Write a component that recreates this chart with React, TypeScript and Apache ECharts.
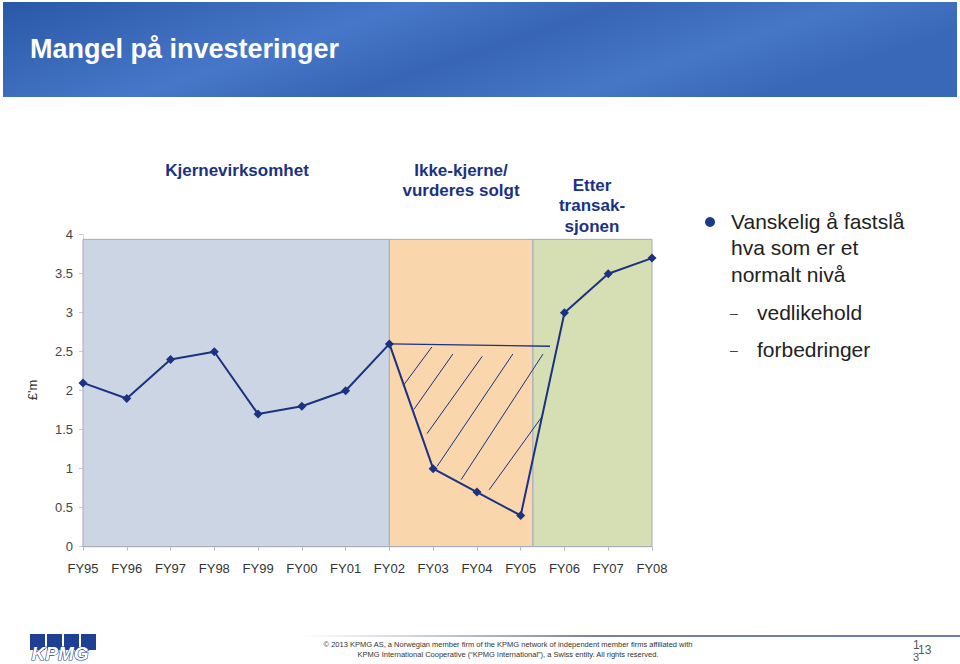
import React, { useEffect, useRef } from "react";
import * as echarts from "echarts";

const categories = ["FY95", "FY96", "FY97", "FY98", "FY99", "FY00", "FY01", "FY02", "FY03", "FY04", "FY05", "FY06", "FY07", "FY08"];
const values = [2.1, 1.9, 2.4, 2.5, 1.7, 1.8, 2.0, 2.6, 1.0, 0.7, 0.4, 3.0, 3.5, 3.7];
const yTicks = [0, 0.5, 1, 1.5, 2, 2.5, 3, 3.5, 4];

// region bounds in category-index units
const regionBounds = [
  [0, 7],
  [7, 10.28],
  [10.28, 13],
];
const regionTop = 3.94;

// annotation: benchmark level line and hatch strokes (index units, value units)
const benchmarkLine = [[7, 2.6], [10.67, 2.57]];
const hatchSegments = [
  [[7.31, 2.06], [7.97, 2.56]],
  [[7.56, 1.76], [8.45, 2.47]],
  [[7.86, 1.45], [9.12, 2.44]],
  [[8.09, 1.03], [9.82, 2.47]],
  [[8.64, 0.86], [10.51, 2.47]],
  [[9.28, 0.73], [10.49, 1.67]],
];

const sectionLabels = [
  { lines: ["Kjernevirksomhet"], x: 237, y: 170 },
  { lines: ["Ikke-kjerne/", "vurderes solgt"], x: 461, y: 170 },
  { lines: ["Etter", "transak-", "sjonen"], x: 592, y: 185 },
];

const bulletMain = ["Vanskelig å fastslå", "hva som er et", "normalt nivå"];
const bulletSub = ["vedlikehold", "forbedringer"];

const footerLines = [
  "© 2013 KPMG AS, a Norwegian member firm of the KPMG network of independent member firms affiliated with",
  "KPMG International Cooperative (“KPMG International”), a Swiss entity. All rights reserved.",
];

const regionColors = ["#cbd5e3", "#f9d6ac", "#d6dfb3"];
const NAVY = "#1b3282";
const FONT = "'Liberation Sans', Arial, sans-serif";

export default function App() {
  const ref = useRef<HTMLDivElement>(null);

  useEffect(() => {
    if (!ref.current) return;
    const chart = echarts.init(ref.current, undefined, { renderer: "svg" });

    const graphics: any[] = [];
    // header band
    graphics.push({
      type: "rect",
      shape: { x: 3, y: 2, width: 954, height: 95 },
      style: {
        fill: new echarts.graphic.LinearGradient(0, 0, 1, 0.3, [
          { offset: 0, color: "#2a58a9" },
          { offset: 0.4, color: "#4777c8" },
          { offset: 0.6, color: "#3865b6" },
          { offset: 0.82, color: "#4676c6" },
          { offset: 1, color: "#3a68b9" },
        ]),
      },
      z: 0,
    });
    graphics.push({
      type: "text",
      x: 30,
      y: 49,
      style: {
        text: "Mangel på investeringer",
        fill: "#ffffff",
        font: `bold 27px ${FONT}`,
        textVerticalAlign: "middle",
      },
    });

    sectionLabels.forEach((s) => {
      s.lines.forEach((ln, i) => {
        graphics.push({
          type: "text",
          x: s.x,
          y: s.y + i * 20.5,
          style: {
            text: ln,
            fill: NAVY,
            font: `bold 17px ${FONT}`,
            textAlign: "center",
            textVerticalAlign: "middle",
          },
        });
      });
    });

    // bullets on the right
    graphics.push({ type: "circle", shape: { cx: 710, cy: 222, r: 5 }, style: { fill: "#1b3a8c" } });
    bulletMain.forEach((ln, i) => {
      graphics.push({
        type: "text",
        x: 731,
        y: 221 + i * 26.5,
        style: { text: ln, fill: "#222", font: `21px ${FONT}`, textVerticalAlign: "middle" },
      });
    });
    bulletSub.forEach((ln, i) => {
      graphics.push({
        type: "text",
        x: 730,
        y: 313 + i * 37,
        style: { text: "–", fill: "#444", font: `14px ${FONT}`, textVerticalAlign: "middle" },
      });
      graphics.push({
        type: "text",
        x: 757,
        y: 312 + i * 37,
        style: { text: ln, fill: "#222", font: `21px ${FONT}`, textVerticalAlign: "middle" },
      });
    });

    // y-axis name
    graphics.push({
      type: "text",
      x: 32,
      y: 390,
      rotation: Math.PI / 2,
      style: { text: "£'m", fill: "#333", font: `13px ${FONT}`, textAlign: "center", textVerticalAlign: "middle" },
    });

    // footer
    graphics.push({
      type: "rect",
      shape: { x: 300, y: 635, width: 660, height: 2 },
      style: {
        fill: new echarts.graphic.LinearGradient(0, 0, 1, 0, [
          { offset: 0, color: "rgba(120,135,165,0)" },
          { offset: 0.45, color: "rgba(100,115,150,0.9)" },
          { offset: 1, color: "#6d7fa5" },
        ]),
      },
    });
    [30, 47, 64, 81].forEach((bx) => {
      graphics.push({ type: "rect", shape: { x: bx, y: 634, width: 15, height: 16 }, style: { fill: "#1e3f94" } });
    });
    graphics.push({
      type: "text",
      x: 60,
      y: 653,
      style: {
        text: "KPMG",
        fill: "#ffffff",
        stroke: "#1e3f94",
        lineWidth: 1.2,
        font: `italic bold 19px ${FONT}`,
        textAlign: "center",
        textVerticalAlign: "middle",
      },
    });
    footerLines.forEach((ln, i) => {
      graphics.push({
        type: "text",
        x: 508,
        y: 644 + i * 10,
        style: { text: ln, fill: "#333", font: `7.5px ${FONT}`, textAlign: "center", textVerticalAlign: "middle" },
      });
    });
    graphics.push({ type: "text", x: 913, y: 645, style: { text: "1", fill: "#555", font: `12px ${FONT}`, textVerticalAlign: "middle" } });
    graphics.push({ type: "text", x: 918, y: 650, style: { text: "13", fill: "#555", font: `12px ${FONT}`, textVerticalAlign: "middle" } });
    graphics.push({ type: "text", x: 913, y: 657, style: { text: "3", fill: "#555", font: `11px ${FONT}`, textVerticalAlign: "middle" } });

    const annotationSeries: any[] = [];
    annotationSeries.push({
      type: "line",
      xAxisIndex: 1,
      yAxisIndex: 0,
      data: benchmarkLine,
      symbol: "none",
      lineStyle: { color: NAVY, width: 1.3 },
      z: 3,
      markArea: {
        silent: true,
        data: regionBounds.map((b, i) => [
          {
            coord: [b[0], 0],
            itemStyle: { color: regionColors[i], borderColor: "#a4a9c2", borderWidth: 1 },
          },
          { coord: [b[1], regionTop] },
        ]),
      },
    });
    hatchSegments.forEach((seg) => {
      annotationSeries.push({
        type: "line",
        xAxisIndex: 1,
        yAxisIndex: 0,
        data: seg,
        symbol: "none",
        lineStyle: { color: NAVY, width: 1 },
        z: 3,
      });
    });

    chart.setOption({
      animation: false,
      backgroundColor: "#ffffff",
      textStyle: { fontFamily: FONT },
      grid: { left: 83, right: 308, top: 234.7, bottom: 117.3, containLabel: false },
      xAxis: [
        {
          type: "category",
          data: categories,
          boundaryGap: false,
          axisLine: { show: true, lineStyle: { color: "#a9adb8", width: 1 } },
          axisTick: { show: true, length: 4, lineStyle: { color: "#b8bcc6" }, alignWithLabel: true },
          axisLabel: { color: "#333", fontSize: 13, margin: 15, fontFamily: FONT },
          splitLine: { show: false },
          z: 6,
        },
        { type: "value", min: 0, max: 13, show: false },
      ],
      yAxis: {
        type: "value",
        min: 0,
        max: 4,
        interval: 0.5,
        axisLine: { show: true, lineStyle: { color: "#d2d5dc" } },
        axisTick: { show: true, length: 4, lineStyle: { color: "#c8cbd2" } },
        axisLabel: {
          color: "#444",
          fontSize: 13,
          margin: 10,
          fontFamily: FONT,
          formatter: (v: number) => (yTicks.includes(v) ? String(v) : ""),
        },
        splitLine: { show: false },
      },
      graphic: graphics,
      series: [
        ...annotationSeries,
        {
          type: "line",
          xAxisIndex: 0,
          yAxisIndex: 0,
          data: values,
          symbol: "diamond",
          symbolSize: 9,
          lineStyle: { color: NAVY, width: 2 },
          itemStyle: { color: NAVY },
          z: 5,
        },
      ],
    });

    return () => chart.dispose();
  }, []);

  return (
    <div
      ref={ref}
      style={{ position: "absolute", left: 0, top: 0, width: 960, height: 664 }}
    />
  );
}
